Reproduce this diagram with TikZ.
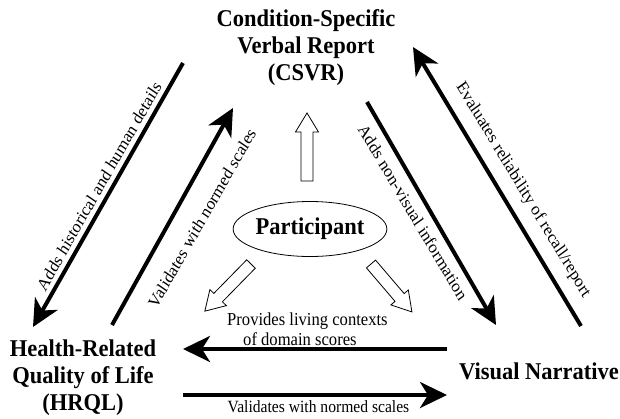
\documentclass[tikz,border=0pt]{standalone}
\usepackage{fontspec}
\setmainfont{Liberation Serif}
\usetikzlibrary{arrows.meta,shapes.geometric}
\newcommand\hollowarrow[3]{%
  \draw[hollowline, shift={(#1)}, rotate=#2]
    (0,6) -- ({#3-19},6) -- ({#3-19},11.5) -- (#3,0) -- ({#3-19},-11.5)
    -- ({#3-19},-6) -- (0,-6) -- cycle;}
\begin{document}
\begin{tikzpicture}[x=1pt,y=-1pt,
  ttl/.style={font=\fontsize{22.5}{25.2}\selectfont\bfseries, align=center, inner sep=0pt, yscale=1.07},
  lbl/.style={font=\fontsize{15.6}{18}\selectfont, inner sep=0pt, yscale=1.1},
  dlbl/.style={lbl, font=\fontsize{16.2}{18}\selectfont},
  conn/.style={line width=4pt, -{Stealth[length=27pt,width=26pt,inset=8pt]}},
  hollowline/.style={line width=0.8pt, draw=black, fill=white}]
\path[use as bounding box] (0,0) rectangle (620,418);

% main nodes
\node[ttl, anchor=north] (csvr) at (306,9.6) {Condition-Specific\\Verbal Report\\(CSVR)};
\node[ttl, anchor=north] (hrql) at (83,339.6) {Health-Related\\Quality of Life\\(HRQL)};
\node[ttl, anchor=base] (vn) at (539,379) {Visual Narrative};
\node[ellipse, draw, line width=0.8pt, minimum width=140pt, minimum height=55pt,
      inner sep=0pt, font=\fontsize{22.5}{25.2}\selectfont\bfseries] (part) at (310,229)
      {\scalebox{1}[1.07]{Participant}};

% connector end points
\coordinate (hA) at (183,63);  \coordinate (hB) at (33,327);
\coordinate (vA) at (112,325); \coordinate (vB) at (233,108);
\coordinate (nA) at (367,102); \coordinate (nB) at (496,325);
\coordinate (eA) at (581,326); \coordinate (eB) at (413,47);
\coordinate (pA) at (447,349); \coordinate (pB) at (183,349);
\coordinate (wA) at (183,395); \coordinate (wB) at (447,395);

\draw[conn] (hA) -- (hB);
\draw[conn] (vA) -- (vB);
\draw[conn] (nA) -- (nB);
\draw[conn] (eA) -- (eB);
\draw[conn] (pA) -- (pB);
\draw[conn] (wA) -- (wB);

% labels (rotated, then stretched vertically like the reference)
\node[dlbl, rotate=58] (lHist) at (99,186) {Adds historical and human details};
\node[dlbl, rotate=58] (lValL) at (202,218) {Validates with normed scales};
\node[dlbl, rotate=-57] (lNonVis) at (413,212) {Adds non-visual information};
\node[dlbl, rotate=-56.5] (lEval) at (523,190) {Evaluates reliability of recall/report};
\node[lbl, font=\fontsize{16.6}{18}\selectfont, align=left, anchor=north west] (lProv) at (227,313)
  {Provides living contexts\\\hspace*{16pt}of domain scores};
\node[lbl, anchor=base] (lValH) at (318.5,412) {Validates with normed scales};

% hollow arrows from participant
\coordinate (upTail) at (307,181);
\coordinate (llTail) at (251,264);
\coordinate (lrTail) at (371,264);
\hollowarrow{upTail}{90}{68}
\hollowarrow{llTail}{225.6}{66}
\hollowarrow{lrTail}{-49.5}{63}
\end{tikzpicture}
\end{document}
